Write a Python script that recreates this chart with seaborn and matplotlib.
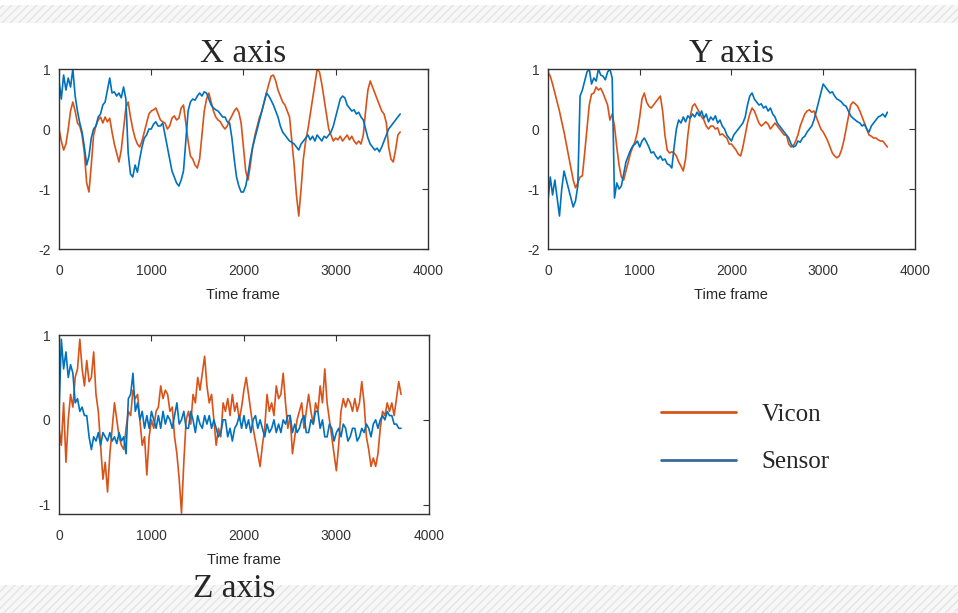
import numpy as np
import pandas as pd
import matplotlib.pyplot as plt
from matplotlib.patches import Rectangle
from matplotlib.lines import Line2D
import seaborn as sns

# frame grid (one reading every 25 frames)
frames = np.arange(0, 3725, 25)

x_vicon = [
    0.0, -0.2, -0.35, -0.25, 0.0, 0.3, 0.45, 0.3,
    0.1, 0.05, -0.1, -0.4, -0.9, -1.05, -0.6, -0.1,
    0.05, 0.15, 0.2, 0.1, 0.2, 0.12, 0.18, -0.05,
    -0.25, -0.4, -0.55, -0.35, 0.0, 0.35, 0.45, 0.2,
    0.0, -0.15, -0.25, -0.3, -0.2, -0.05, 0.1, 0.25,
    0.3, 0.32, 0.35, 0.25, 0.15, 0.12, 0.1, 0.0,
    0.05, 0.18, 0.22, 0.15, 0.18, 0.35, 0.4, 0.1,
    -0.2, -0.45, -0.5, -0.6, -0.65, -0.5, -0.1, 0.3,
    0.5, 0.6, 0.45, 0.3, 0.2, 0.15, 0.12, 0.05,
    0.0, 0.05, 0.15, 0.22, 0.3, 0.35, 0.28, 0.1,
    -0.3, -0.7, -0.85, -0.6, -0.3, -0.1, 0.05, 0.2,
    0.3, 0.45, 0.6, 0.75, 0.88, 0.9, 0.8, 0.65,
    0.55, 0.45, 0.4, 0.3, 0.2, -0.2, -0.6, -1.1,
    -1.45, -1.0, -0.5, -0.2, 0.0, 0.25, 0.5, 0.75,
    1.0, 0.95, 0.75, 0.5, 0.25, 0.0, -0.1, -0.2,
    -0.15, -0.18, -0.12, -0.2, -0.15, -0.1, -0.18, -0.12,
    -0.2, -0.25, -0.2, -0.25, -0.1, 0.3, 0.65, 0.8,
    0.7, 0.6, 0.5, 0.4, 0.3, 0.25, 0.1, -0.3,
    -0.5, -0.55, -0.35, -0.1, -0.05,
]
x_sensor = [
    0.8, 0.5, 0.9, 0.65, 0.85, 0.7, 1.0, 0.55,
    0.3, 0.1, -0.05, -0.3, -0.6, -0.45, -0.15, 0.0,
    0.05, 0.2, 0.25, 0.4, 0.45, 0.65, 0.85, 0.6,
    0.62, 0.55, 0.6, 0.52, 0.7, 0.5, -0.4, -0.75,
    -0.8, -0.6, -0.72, -0.5, -0.3, -0.15, -0.1, 0.0,
    0.0, 0.08, 0.12, 0.05, 0.05, 0.1, -0.1, -0.3,
    -0.5, -0.7, -0.8, -0.9, -0.95, -0.85, -0.7, -0.2,
    0.3, 0.45, 0.5, 0.48, 0.55, 0.6, 0.55, 0.62,
    0.6, 0.5, 0.4, 0.35, 0.32, 0.3, 0.25, 0.2,
    0.2, 0.12, 0.1, -0.15, -0.5, -0.8, -0.95, -1.05,
    -1.05, -0.95, -0.75, -0.5, -0.3, -0.15, 0.0, 0.15,
    0.3, 0.45, 0.6, 0.55, 0.48, 0.4, 0.3, 0.2,
    0.05, -0.05, -0.1, -0.15, -0.2, -0.22, -0.25, -0.3,
    -0.35, -0.25, -0.2, -0.15, -0.1, -0.18, -0.12, -0.2,
    -0.1, -0.15, -0.2, -0.12, -0.15, -0.1, -0.05, 0.05,
    0.2, 0.35, 0.5, 0.55, 0.52, 0.4, 0.35, 0.3,
    0.32, 0.25, 0.28, 0.2, 0.15, 0.0, -0.15, -0.25,
    -0.3, -0.35, -0.32, -0.38, -0.3, -0.2, -0.1, 0.0,
    0.05, 0.1, 0.15, 0.2, 0.25,
]

y_vicon = [
    0.95, 0.88, 0.75, 0.6, 0.45, 0.3, 0.12, -0.05,
    -0.25, -0.45, -0.65, -0.85, -0.98, -0.9, -0.8, -0.78,
    -0.4, 0.0, 0.4, 0.58, 0.6, 0.7, 0.65, 0.68,
    0.6, 0.5, 0.4, 0.15, 0.25, 0.05, -0.3, -0.6,
    -0.8, -0.85, -0.7, -0.55, -0.4, -0.3, -0.2, -0.05,
    0.2, 0.5, 0.6, 0.45, 0.38, 0.35, 0.4, 0.45,
    0.5, 0.55, 0.3, -0.1, -0.35, -0.4, -0.38, -0.4,
    -0.45, -0.55, -0.62, -0.7, -0.5, -0.1, 0.2, 0.38,
    0.42, 0.35, 0.28, 0.2, 0.15, 0.05, 0.0, 0.05,
    0.05, 0.0, 0.02, -0.1, -0.08, -0.12, -0.15, -0.25,
    -0.25, -0.3, -0.35, -0.42, -0.45, -0.3, -0.1, 0.1,
    0.25, 0.35, 0.3, 0.2, 0.1, 0.05, 0.08, 0.12,
    0.08, 0.0, 0.05, 0.1, 0.05, 0.0, -0.05, -0.1,
    -0.1, -0.25, -0.3, -0.28, -0.2, -0.1, 0.05, 0.15,
    0.25, 0.3, 0.32, 0.28, 0.3, 0.2, 0.1, 0.0,
    -0.05, -0.12, -0.2, -0.3, -0.4, -0.45, -0.48, -0.45,
    -0.35, -0.2, 0.0, 0.2, 0.4, 0.45, 0.42, 0.38,
    0.3, 0.2, 0.1, 0.0, -0.1, -0.12, -0.15, -0.15,
    -0.18, -0.2, -0.2, -0.25, -0.3,
]
y_sensor = [
    -1.2, -0.8, -1.1, -0.85, -1.15, -1.45, -1.0, -0.7,
    -0.85, -1.0, -1.15, -1.3, -1.2, -0.95, 0.55, 0.65,
    0.8, 0.95, 1.0, 0.75, 0.85, 0.8, 1.0, 0.9,
    0.88, 0.82, 0.95, 1.0, 0.85, -1.15, -0.9, -1.0,
    -0.95, -0.75, -0.55, -0.45, -0.35, -0.28, -0.25, -0.2,
    -0.3, -0.2, -0.15, -0.22, -0.3, -0.4, -0.38, -0.45,
    -0.5, -0.45, -0.52, -0.5, -0.58, -0.6, -0.65, -0.3,
    0.0, 0.15, 0.1, 0.2, 0.12, 0.22, 0.18, 0.25,
    0.2, 0.28, 0.22, 0.3, 0.18, 0.25, 0.12, 0.2,
    0.15, 0.22, 0.1, 0.15, 0.05, 0.0, -0.1, -0.15,
    -0.2, -0.1, -0.05, 0.0, 0.05, 0.1, 0.2, 0.4,
    0.55, 0.6, 0.5, 0.45, 0.4, 0.42, 0.35, 0.38,
    0.3, 0.35, 0.25, 0.2, 0.1, 0.05, 0.0, -0.05,
    -0.1, -0.15, -0.25, -0.3, -0.28, -0.2, -0.22, -0.15,
    -0.12, -0.05, 0.0, 0.05, 0.15, 0.3, 0.45, 0.6,
    0.75, 0.7, 0.65, 0.6, 0.62, 0.55, 0.5, 0.48,
    0.45, 0.4, 0.38, 0.3, 0.22, 0.18, 0.15, 0.12,
    0.1, 0.05, 0.08, 0.0, -0.05, 0.05, 0.1, 0.15,
    0.2, 0.22, 0.25, 0.2, 0.28,
]

z_vicon = [
    -0.1, -0.3, 0.2, -0.5, 0.0, 0.3, 0.15, 0.5,
    0.6, 0.95, 0.6, 0.4, 0.7, 0.45, 0.5, 0.8,
    0.3, 0.1, -0.3, -0.7, -0.5, -0.85, -0.4, -0.1,
    0.2, 0.0, -0.2, -0.3, -0.35, -0.1, 0.1, 0.05,
    0.35, 0.25, 0.3, 0.0, -0.3, -0.2, -0.65, -0.2,
    0.0, -0.1, 0.1, 0.15, 0.4, 0.25, 0.35, 0.3,
    0.1, 0.15, -0.2, -0.4, -0.7, -1.1, -0.5, 0.0,
    0.1, -0.05, 0.3, 0.2, 0.5, 0.35, 0.55, 0.75,
    0.4, 0.2, 0.3, 0.0, -0.3, -0.1, -0.2, 0.2,
    0.1, 0.25, 0.05, 0.3, 0.1, 0.2, 0.0, 0.15,
    0.35, 0.5, 0.3, 0.1, -0.1, -0.25, -0.4, -0.55,
    -0.3, -0.1, 0.3, 0.1, 0.2, 0.05, 0.4, 0.25,
    0.3, 0.55, 0.2, -0.1, 0.05, -0.4, -0.2, 0.0,
    0.1, 0.2, -0.1, 0.1, 0.3, 0.1, -0.05, 0.2,
    0.1, 0.4, 0.2, 0.6, 0.2, 0.0, -0.2, -0.4,
    -0.6, -0.3, 0.1, 0.25, 0.15, 0.25, 0.2, 0.1,
    0.25, 0.1, 0.2, 0.45, 0.2, -0.2, -0.35, -0.55,
    -0.45, -0.55, -0.4, -0.1, 0.1, 0.05, 0.2, 0.1,
    0.2, 0.05, 0.25, 0.45, 0.3,
]
z_sensor = [
    0.1, 0.95, 0.6, 0.8, 0.5, 0.65, 0.55, 0.2,
    0.25, 0.1, 0.15, 0.05, 0.05, -0.2, -0.35, -0.2,
    -0.25, -0.15, -0.3, -0.15, -0.2, -0.25, -0.15, -0.25,
    -0.2, -0.28, -0.15, -0.25, -0.2, -0.4, 0.25, 0.3,
    0.55, 0.1, 0.2, 0.0, 0.1, -0.1, 0.05, -0.1,
    0.1, 0.0, -0.1, 0.05, -0.1, 0.1, -0.05, 0.05,
    0.0, -0.1, 0.05, 0.2, -0.05, 0.0, 0.1, -0.1,
    -0.1, 0.1, 0.0, -0.15, 0.05, -0.05, -0.1, 0.05,
    -0.05, 0.05, -0.1, 0.0, -0.1, -0.2, -0.15, 0.0,
    0.0, -0.2, -0.1, -0.25, -0.1, -0.05, 0.05, -0.1,
    0.05, -0.1, 0.0, -0.15, 0.0, 0.05, -0.1, 0.0,
    -0.1, -0.2, -0.05, -0.15, -0.1, 0.0, -0.15, -0.05,
    -0.15, 0.0, -0.05, 0.05, 0.05, -0.15, -0.05, -0.15,
    -0.1, 0.0, 0.05, -0.15, -0.15, 0.0, -0.05, 0.1,
    0.1, -0.1, 0.0, -0.2, -0.2, -0.05, -0.1, -0.25,
    -0.15, -0.1, -0.2, -0.05, -0.1, -0.25, -0.2, -0.1,
    -0.1, -0.25, -0.2, -0.1, -0.15, -0.05, -0.1, -0.2,
    -0.05, 0.0, -0.1, 0.0, 0.05, 0.0, 0.1, 0.05,
    0.05, -0.05, -0.05, -0.1, -0.1,
]

palette = {"Vicon": "#D95319", "Sensor": "#0072BD"}

sns.set_theme(style="white")
plt.rcParams["axes.unicode_minus"] = False
plt.rcParams["font.family"] = ["Liberation Sans", "DejaVu Sans"]


def long_df(vicon, sensor):
    return pd.DataFrame({
        "frame": np.concatenate([frames, frames]),
        "value": np.concatenate([vicon, sensor]),
        "source": ["Vicon"] * len(frames) + ["Sensor"] * len(frames),
    })


def draw_panel(ax, vicon, sensor, ylim, yticks):
    df = long_df(vicon, sensor)
    sns.lineplot(data=df, x="frame", y="value", hue="source",
                 hue_order=["Vicon", "Sensor"], palette=palette,
                 estimator=None, sort=False, linewidth=1.2,
                 legend=False, ax=ax)
    ax.set_xlim(0, 4000)
    ax.set_ylim(*ylim)
    ax.set_xticks([0, 1000, 2000, 3000, 4000])
    ax.set_yticks(yticks)
    ax.set_ylabel("")
    ax.set_xlabel("Time frame", fontsize=10.5, color="#262626", labelpad=7)
    ax.tick_params(direction="in", top=True, right=True, length=4,
                   width=0.8, labelsize=10, colors="#333333")
    ax.tick_params(axis="x", pad=11)
    ax.tick_params(axis="y", pad=6)
    for s in ax.spines.values():
        s.set_color("#333333")
        s.set_linewidth(1.0)


fig = plt.figure(figsize=(9.58, 6.13), dpi=100)

# hatched grey strips at top and bottom of the slide
for y0, h in [(0.962, 0.03), (0.0, 0.046)]:
    fig.patches.append(Rectangle((0, y0), 1, h, transform=fig.transFigure,
                                 facecolor="#f7f7f7", edgecolor="#e4e4e4",
                                 hatch="////", linewidth=0, zorder=0))

ax_x = fig.add_axes([0.0616, 0.5938, 0.385, 0.2936])
ax_y = fig.add_axes([0.572, 0.5938, 0.383, 0.2936])
ax_z = fig.add_axes([0.0616, 0.1615, 0.386, 0.292])

draw_panel(ax_x, x_vicon, x_sensor, (-2, 1), [-2, -1, 0, 1])
draw_panel(ax_y, y_vicon, y_sensor, (-2, 1), [-2, -1, 0, 1])
draw_panel(ax_z, z_vicon, z_sensor, (-1.11, 1), [-1, 0, 1])

title_font = {"family": ["Liberation Serif", "DejaVu Serif"], "size": 24}
ax_x.set_title("X axis", fontdict=title_font, pad=5)
ax_y.set_title("Y axis", fontdict=title_font, pad=5)
fig.text(0.245, 0.04, "Z axis", ha="center", va="center", **title_font)

handles = [Line2D([], [], color=palette["Vicon"], linewidth=2),
           Line2D([], [], color="#3a6a9a", linewidth=2)]
fig.legend(handles, ["Vicon", "Sensor"], loc="center left",
           bbox_to_anchor=(0.667, 0.285), frameon=False,
           prop={"family": ["Liberation Serif", "DejaVu Serif"], "size": 18},
           handlelength=3.0, handletextpad=1.0, labelspacing=1.0)

fig.savefig("out.png", dpi=100)
